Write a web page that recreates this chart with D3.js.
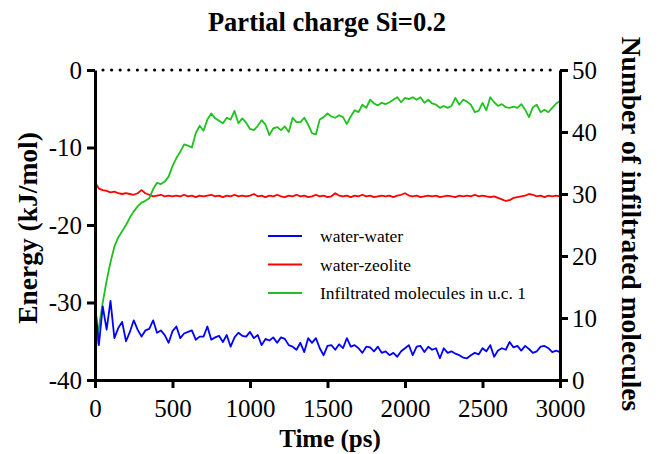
<!DOCTYPE html>
<html>
<head>
<meta charset="utf-8">
<script src="https://cdn.jsdelivr.net/npm/d3@7"></script>
<style>
  body { margin: 0; background: #fff; }
  text { font-family: "Liberation Serif", "Times New Roman", serif; fill: #000; }
</style>
</head>
<body>
<svg id="chart-svg" width="660" height="454"></svg>
<script>
var timeStep = 25;

var waterWater = [
  -30.0, -35.5, -30.5, -33.5, -29.8, -34.6, -33.3, -32.5, -35.0, -33.8,
  -32.3, -33.5, -34.4, -33.6, -33.4, -32.3, -33.9, -33.6, -34.2, -35.2,
  -33.7, -33.1, -34.6, -34.0, -33.8, -33.6, -34.8, -34.4, -34.4, -33.1,
  -34.8, -34.5, -34.3, -35.1, -34.2, -35.7, -34.5, -33.9, -34.3, -34.4,
  -33.8, -34.6, -34.2, -35.5, -34.7, -34.9, -34.5, -35.2, -34.5, -34.7,
  -35.5, -35.7, -36.1, -35.2, -36.4, -34.6, -35.2, -34.6, -35.9, -36.8,
  -35.6, -35.5, -36.1, -35.4, -35.9, -34.6, -35.7, -35.5, -35.9, -36.5,
  -35.7, -35.8, -36.3, -35.7, -36.5, -36.3, -36.8, -36.5, -37.0, -36.3,
  -35.9, -35.5, -36.8, -35.7, -35.6, -36.4, -35.7, -36.1, -35.9, -37.2,
  -35.9, -36.5, -36.3, -36.6, -36.8, -37.1, -37.2, -36.8, -36.5, -36.7,
  -35.9, -36.3, -35.5, -37.0, -36.2, -35.9, -36.1, -35.1, -35.8, -35.6,
  -36.2, -35.6, -36.0, -36.5, -36.3, -35.7, -35.6, -35.9, -36.4, -36.2,
  -36.4
];

var waterZeolite = [
  -14.5, -15.3, -15.5, -15.6, -15.8, -15.7, -15.9, -16.0, -15.9, -16.0,
  -16.1, -15.9, -15.5, -15.9, -16.1, -16.3, -16.2, -16.1, -16.3, -16.2,
  -16.3, -16.2, -16.3, -16.1, -16.3, -16.2, -16.4, -16.2, -16.3, -16.2,
  -16.1, -16.3, -16.2, -16.4, -16.2, -16.3, -16.1, -16.3, -16.2, -16.3,
  -16.2, -16.0, -16.3, -16.2, -16.4, -16.2, -16.3, -16.1, -16.3, -16.4,
  -16.2, -16.3, -16.1, -16.3, -16.2, -16.4, -16.3, -16.1, -16.3, -16.2,
  -16.4, -16.3, -15.9, -16.2, -16.3, -16.2, -16.4, -16.2, -16.3, -16.1,
  -16.3, -16.2, -16.4, -16.3, -16.2, -16.3, -16.2, -16.4, -16.2, -16.1,
  -15.9, -16.2, -16.3, -16.2, -16.4, -16.3, -16.2, -16.3, -16.2, -16.4,
  -16.3, -16.2, -16.3, -16.4, -16.2, -16.3, -16.2, -16.3, -16.1, -16.3,
  -16.2, -16.3, -16.4, -16.3, -16.5, -16.7, -16.9, -16.8, -16.5, -16.4,
  -16.3, -16.2, -16.0, -16.1, -16.3, -16.2, -16.4, -16.2, -16.3, -16.2,
  -16.3
];

var infiltrated = [
   4.0,  8.5, 12.5, 16.0, 19.0, 21.5, 23.0, 24.0, 25.0, 26.2,
  27.2, 28.0, 28.6, 28.9, 29.3, 30.8, 31.8, 31.6, 32.0, 32.8,
  34.5, 35.8, 36.8, 38.0, 37.8, 37.5, 39.8, 41.0, 40.2, 42.0,
  43.0, 42.2, 41.8, 41.4, 42.3, 42.0, 43.4, 41.4, 42.2, 41.5,
  40.5, 40.3, 41.0, 41.9, 41.2, 39.5, 40.6, 40.8, 40.3, 40.9,
  40.0, 42.3, 41.6, 41.6, 42.3, 41.2, 39.8, 39.6, 42.0, 42.4,
  43.0, 42.5, 42.3, 42.7, 42.4, 41.3, 42.5, 43.5, 43.2, 44.4,
  43.9, 45.2, 44.6, 44.3, 44.7, 44.5, 44.8, 45.2, 45.6, 44.8,
  45.5, 45.3, 45.6, 45.2, 45.6, 44.7, 45.2, 44.6, 44.4, 43.9,
  44.2, 43.9, 44.2, 45.5, 44.4, 45.2, 44.9, 44.4, 43.2, 43.4,
  44.7, 43.5, 45.6, 44.8, 44.2, 44.5, 44.0, 43.9, 44.1, 43.9,
  44.5, 43.6, 42.4, 44.0, 44.4, 43.2, 43.6, 43.2, 43.9, 44.6,
  45.0
];

var xTicks = [0, 500, 1000, 1500, 2000, 2500, 3000];
var yLeftTicks = [-40, -30, -20, -10, 0];
var yRightTicks = [0, 10, 20, 30, 40, 50];
var legendNames = ["water-water", "water-zeolite", "Infiltrated molecules in u.c. 1"];
var colors = ["#0000ff", "#ff0000", "#1ec21e"];

var svg = d3.select("#chart-svg");
var plotLeft = 95, plotRight = 560, plotTop = 70, plotBottom = 380;

var x = d3.scaleLinear().domain([0, 3000]).range([plotLeft, plotRight]);
var yL = d3.scaleLinear().domain([-40, 0]).range([plotBottom, plotTop]);
var yR = d3.scaleLinear().domain([0, 50]).range([plotBottom, plotTop]);

var plain = d => String(d);   // hyphen minus, no thousands comma

// dotted line at energy 0
svg.append("line")
    .attr("x1", x(0) + 8).attr("x2", x(3000) - 4)
    .attr("y1", yL(0)).attr("y2", yL(0))
    .attr("stroke", "#000").attr("stroke-width", 3.2)
    .attr("stroke-linecap", "round")
    .attr("stroke-dasharray", "0 8.6");

function drawLine(values, yScale, color) {
    var line = d3.line()
        .x((d, i) => x(i * timeStep))
        .y(d => yScale(d));
    svg.append("path")
        .datum(values)
        .attr("fill", "none")
        .attr("stroke", color)
        .attr("stroke-width", 1.8)
        .attr("stroke-linejoin", "round")
        .attr("d", line);
}

drawLine(waterZeolite, yL, colors[1]);
drawLine(infiltrated, yR, colors[2]);
drawLine(waterWater, yL, colors[0]);

function styleAxis(g) {
    g.selectAll("path").attr("stroke-width", 3).attr("stroke", "#000");
    g.selectAll(".tick line").attr("stroke-width", 3).attr("stroke", "#000");
    g.selectAll("text")
        .style("font-family", "'Liberation Serif', 'Times New Roman', serif")
        .style("font-size", "25px");
}

svg.append("g")
    .attr("transform", "translate(0," + plotBottom + ")")
    .call(d3.axisBottom(x).tickValues(xTicks).tickSize(8).tickSizeOuter(0).tickPadding(11)
        .tickFormat(plain))
    .call(styleAxis);

svg.append("g")
    .attr("transform", "translate(" + plotLeft + ",0)")
    .call(d3.axisLeft(yL).tickValues(yLeftTicks).tickSize(8).tickSizeOuter(0).tickPadding(5)
        .tickFormat(plain))
    .call(styleAxis);

svg.append("g")
    .attr("transform", "translate(" + plotRight + ",0)")
    .call(d3.axisRight(yR).tickValues(yRightTicks).tickSize(8).tickSizeOuter(0).tickPadding(4)
        .tickFormat(plain))
    .call(styleAxis);

// title and axis titles
svg.append("text")
    .attr("x", 327).attr("y", 31)
    .attr("text-anchor", "middle")
    .style("font-size", "26.5px").style("font-weight", "bold")
    .text("Partial charge Si=0.2");

svg.append("text")
    .attr("x", 330).attr("y", 447)
    .attr("text-anchor", "middle")
    .style("font-size", "25px").style("font-weight", "bold")
    .text("Time (ps)");

svg.append("text")
    .attr("transform", "translate(37," + ((plotTop + plotBottom) / 2 + 3) + ") rotate(-90)")
    .attr("text-anchor", "middle")
    .style("font-size", "27.5px").style("font-weight", "bold")
    .text("Energy (kJ/mol)");

svg.append("text")
    .attr("transform", "translate(622," + ((plotTop + plotBottom) / 2 - 1) + ") rotate(90)")
    .attr("text-anchor", "middle")
    .style("font-size", "27.5px").style("font-weight", "bold")
    .text("Number of infiltrated molecules");

// legend
var legend = svg.append("g").attr("transform", "translate(268,236)");
legendNames.forEach(function(name, i) {
    legend.append("line")
        .attr("x1", 0).attr("x2", 34)
        .attr("y1", i * 28.5).attr("y2", i * 28.5)
        .attr("stroke", colors[i]).attr("stroke-width", 1.8);
    legend.append("text")
        .attr("x", 52).attr("y", i * 28.5 + 6)
        .style("font-size", "17.5px")
        .text(name);
});
</script>
</body>
</html>
